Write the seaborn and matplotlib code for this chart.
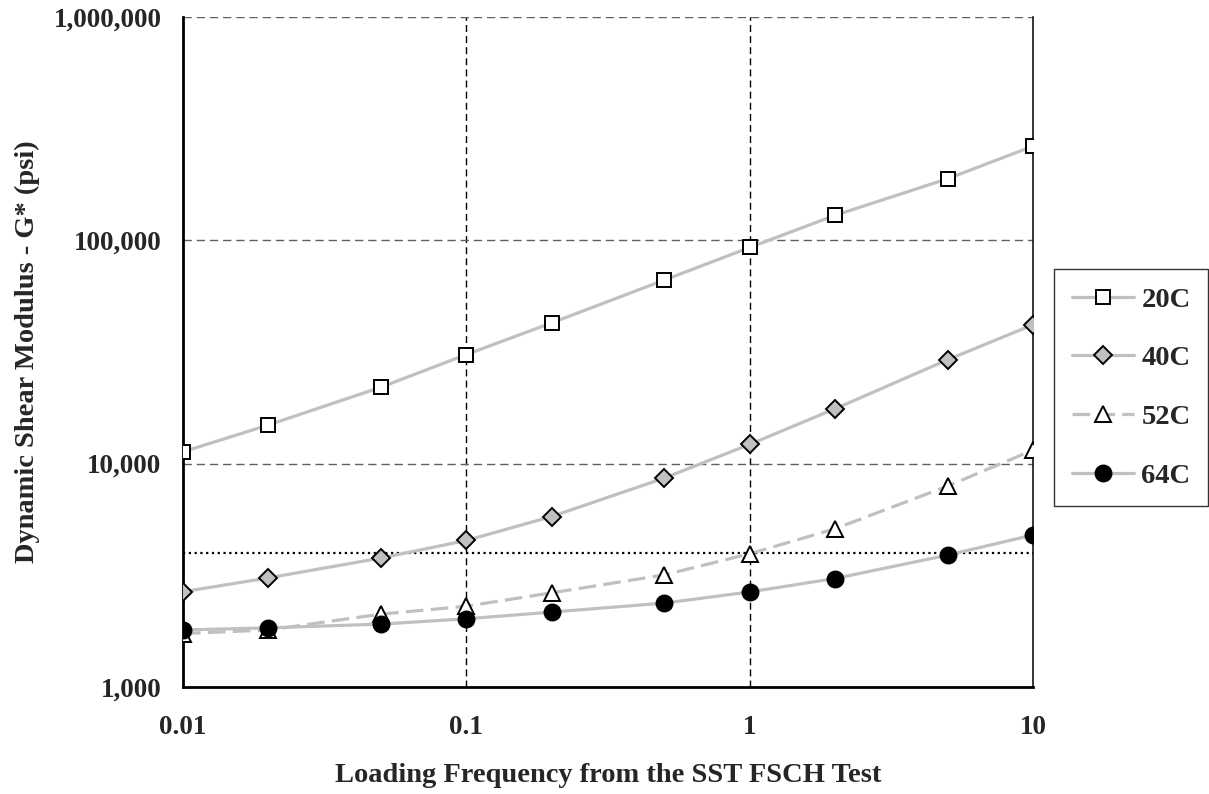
import matplotlib
matplotlib.use("Agg")
import matplotlib.pyplot as plt
import matplotlib.ticker as mticker
from matplotlib.lines import Line2D
import seaborn as sns
import pandas as pd

# ---- data ----
frequency = [0.01, 0.02, 0.05, 0.1, 0.2, 0.5, 1, 2, 5, 10]
g_20C = [11300, 14900, 22000, 30800, 42700, 66400, 92900, 129400, 188800, 264000]
g_40C = [2670, 3080, 3780, 4530, 5800, 8620, 12200, 17600, 29200, 41900]
g_52C = [1735, 1800, 2120, 2300, 2640, 3177, 3950, 5110, 7940, 11500]
g_64C = [1800, 1840, 1913, 2020, 2165, 2375, 2665, 3060, 3895, 4795]
series_names = ["20C", "40C", "52C", "64C"]
threshold = 4000
x_ticks = [0.01, 0.1, 1, 10]
x_tick_labels = ["0.01", "0.1", "1", "10"]
y_ticks = [1000, 10000, 100000, 1000000]
y_tick_labels = ["1,000", "10,000", "100,000", "1,000,000"]

sns.set_theme(style="white")
plt.rcParams["font.family"] = ["Liberation Serif", "DejaVu Serif"]
plt.rcParams["font.weight"] = "bold"

fig = plt.figure(figsize=(12.09, 7.94), dpi=100)
ax = fig.add_axes([183 / 1209, 1 - 687 / 794, 850 / 1209, 670 / 794])

LW = 2.3
styles = {
    "20C": dict(marker="s", mfc="white", ls="-", ms=10.5),
    "40C": dict(marker="D", mfc="#C0C0C0", ls="-", ms=9.0),
    "52C": dict(marker="^", mfc="white", ls=(0, (5.5, 2.3)), ms=11.5),
    "64C": dict(marker="o", mfc="black", ls="-", ms=11.5),
}

df = pd.DataFrame({
    "freq": frequency * 4,
    "G": g_20C + g_40C + g_52C + g_64C,
    "temp": sum([[n] * len(frequency) for n in series_names], []),
})

handles = []
for name in series_names:
    st = styles[name]
    sub = df[df["temp"] == name]
    sns.lineplot(data=sub, x="freq", y="G", ax=ax, color="#C0C0C0", lw=LW,
                 linestyle=st["ls"], marker=st["marker"], markersize=st["ms"],
                 markerfacecolor=st["mfc"], markeredgecolor="black",
                 markeredgewidth=1.4, zorder=3, legend=False)
    handles.append(Line2D([], [], color="#C0C0C0", lw=LW, linestyle=st["ls"],
                          marker=st["marker"], markersize=st["ms"],
                          markerfacecolor=st["mfc"], markeredgecolor="black",
                          markeredgewidth=1.4, label=name))

# threshold dotted line
ax.plot([frequency[0], frequency[-1]], [threshold, threshold], color="black",
        lw=1.6, linestyle=(0, (1, 1.6)), zorder=2)

ax.set_xscale("log")
ax.set_yscale("log")
ax.set_xlim(0.01, 10)
ax.set_ylim(1000, 1000000)

ax.set_xticks(x_ticks)
ax.set_xticklabels(x_tick_labels)
ax.set_yticks(y_ticks)
ax.set_yticklabels(y_tick_labels)
ax.xaxis.set_minor_locator(mticker.LogLocator(base=10, subs=range(2, 10)))
ax.yaxis.set_minor_locator(mticker.LogLocator(base=10, subs=range(2, 10)))
ax.xaxis.set_minor_formatter(mticker.NullFormatter())
ax.yaxis.set_minor_formatter(mticker.NullFormatter())

for lbl in ax.get_xticklabels() + ax.get_yticklabels():
    lbl.set_fontweight("bold")
    lbl.set_fontsize(19.5)

ax.tick_params(which="major", direction="inout", length=11, width=1.2,
               color="black")
ax.tick_params(axis="x", which="major", pad=15)
ax.tick_params(axis="y", which="major", pad=10)
ax.tick_params(which="minor", direction="in", length=5, width=1.0, color="black")
ax.tick_params(top=False, right=False, which="both")

# grid
for xv in [0.1, 1]:
    ax.axvline(xv, color="black", lw=1.0, linestyle=(0, (5, 3)), zorder=1)
for yv in [10000, 100000, 1000000]:
    ax.axhline(yv, color="#606060", lw=1.0, linestyle=(0, (6, 3.5)), zorder=1)

ax.spines["left"].set_color("black")
ax.spines["left"].set_linewidth(2)
ax.spines["bottom"].set_color("black")
ax.spines["bottom"].set_linewidth(2)
ax.spines["right"].set_color("black")
ax.spines["right"].set_linewidth(1.1)
ax.spines["top"].set_visible(False)

ax.set_xlabel("Loading Frequency from the SST FSCH Test", fontsize=20.5,
              fontweight="bold", labelpad=16)
ax.set_ylabel("Dynamic Shear Modulus - G* (psi)", fontsize=20.5,
              fontweight="bold", labelpad=10)

leg = fig.legend(handles=handles, loc="upper left",
                 bbox_to_anchor=(1054 / 1209, 1 - 269 / 794),
                 frameon=True, fancybox=False, edgecolor="black",
                 fontsize=20.5, handlelength=2.2, labelspacing=1.15,
                 borderpad=0.62, handletextpad=0.25, borderaxespad=0)
leg.get_frame().set_linewidth(1.0)
for t in leg.get_texts():
    t.set_fontweight("bold")

fig.savefig("out.png", dpi=100)
